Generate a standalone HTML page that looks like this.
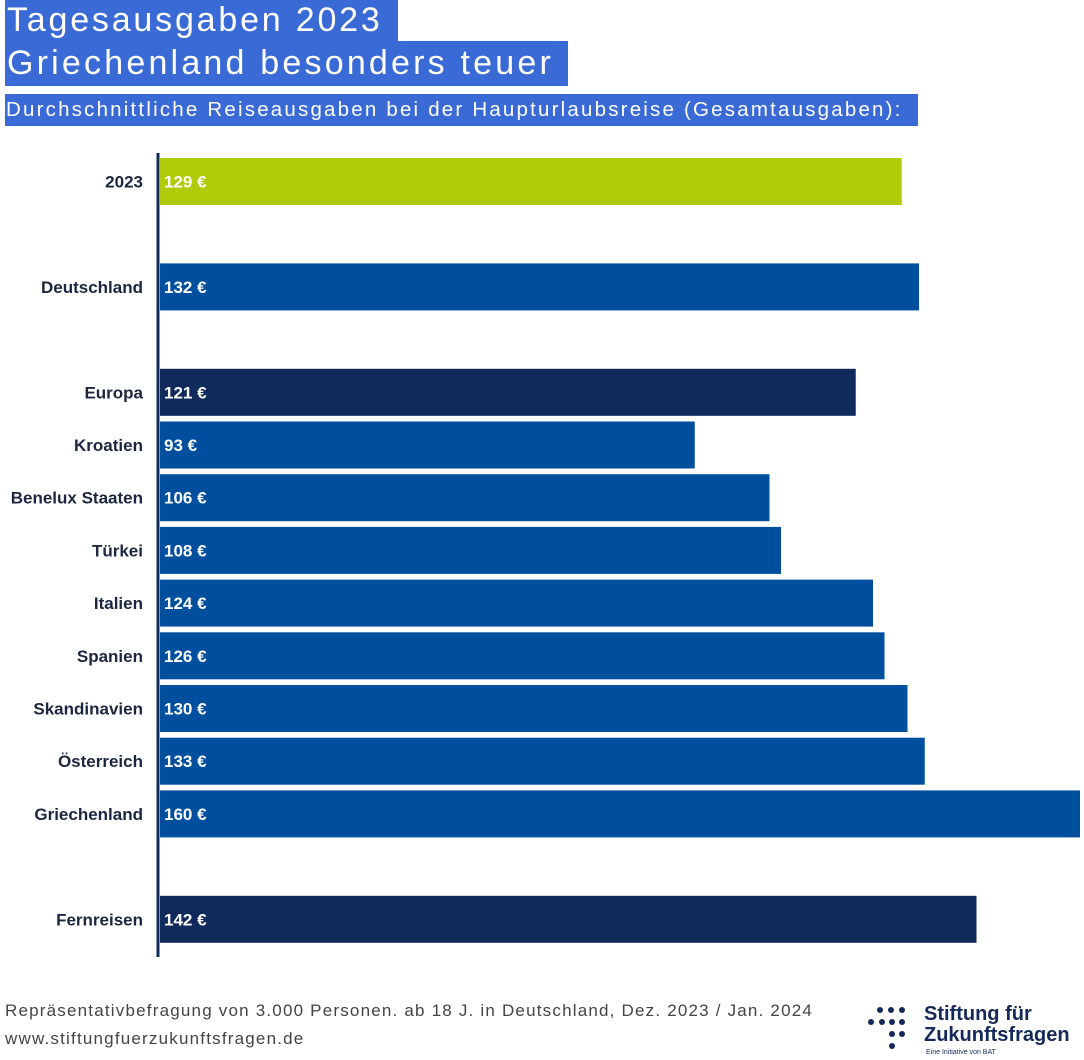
<!DOCTYPE html>
<html><head><meta charset="utf-8">
<style>
body{margin:0;background:#fff;width:1084px;height:1060px;overflow:hidden;position:relative;font-family:"Liberation Sans",sans-serif}
.t{position:absolute;background:#3a6ad6;color:#fff;white-space:nowrap}
.foot{position:absolute;left:5px;color:#444;font-size:17px;white-space:nowrap;letter-spacing:1.2px}
</style></head><body>
<div class="t" style="left:5px;top:0;width:393px;height:41px;font-size:34px;line-height:41px;padding-left:2px;box-sizing:border-box;letter-spacing:2.8px">Tagesausgaben 2023</div>
<div class="t" style="left:5px;top:41px;width:563px;height:45px;font-size:34px;line-height:45px;padding-left:2px;box-sizing:border-box;letter-spacing:3.2px">Griechenland besonders teuer</div>
<div class="t" style="left:5px;top:94px;width:913px;height:32px;font-size:20.5px;line-height:32px;padding-left:1px;box-sizing:border-box;letter-spacing:2.2px">Durchschnittliche Reiseausgaben bei der Haupturlaubsreise (Gesamtausgaben):</div>
<svg id="chart" width="1084" height="1060" style="position:absolute;left:0;top:0"></svg>
<div class="foot" style="top:1001px">Repräsentativbefragung von 3.000 Personen. ab 18 J. in Deutschland, Dez. 2023 / Jan. 2024</div>
<div class="foot" style="top:1029px">www.stiftungfuerzukunftsfragen.de</div>
<div style="position:absolute;left:866px;top:1004px;width:218px;height:56px">
<svg width="56" height="56" style="position:absolute;left:0;top:0">
<g fill="#14295a"><circle cx="14" cy="6" r="3"/><circle cx="25" cy="6" r="3"/><circle cx="36" cy="6" r="3"/>
<circle cx="5" cy="18" r="3"/><circle cx="16" cy="18" r="3"/><circle cx="26" cy="18" r="3"/><circle cx="36" cy="18" r="3"/>
<circle cx="26" cy="30" r="3"/><circle cx="36" cy="30" r="3"/><circle cx="26" cy="42" r="3"/></g></svg>
<div style="position:absolute;left:58px;top:0;color:#14295a;font-weight:bold;font-size:20px;line-height:21px">Stiftung für<br>Zukunftsfragen</div>
<div style="position:absolute;left:60px;top:45px;color:#14295a;font-size:7px">Eine Initiative von BAT</div>
</div>
<script>
const categories=["2023","Deutschland","Europa","Kroatien","Benelux Staaten","Türkei","Italien","Spanien","Skandinavien","Österreich","Griechenland","Fernreisen"];
const values=[129,132,121,93,106,108,124,126,130,133,160,142];
const slots=[0,2,4,5,6,7,8,9,10,11,12,14];
const colors=["#b1cb0b","#004f9f","#102a5c","#004f9f","#004f9f","#004f9f","#004f9f","#004f9f","#004f9f","#004f9f","#004f9f","#102a5c"];
const NS="http://www.w3.org/2000/svg";
const svg=document.getElementById('chart');
const x0=160,pxPer=5.75,y0=158,step=52.7,bh=47;
const xs=v=>v*pxPer, ys=s=>y0+s*step;
function mk(t,a){const e=document.createElementNS(NS,t);for(const k in a)e.setAttribute(k,a[k]);svg.appendChild(e);return e;}
categories.forEach((c,i)=>{
  const y=ys(slots[i]);
  const r=mk('rect',{x:x0,y:y,width:xs(values[i]),height:bh,fill:colors[i]});
  
  
  const v=mk('text',{x:x0+4,y:y+bh/2+6,fill:'#fff','font-size':17,'font-weight':'bold','font-family':'Liberation Sans, sans-serif'});
  v.textContent=values[i]+' €';
  
  
  const l=mk('text',{x:143,y:y+bh/2+6,fill:'#1b2640','font-size':17,'font-weight':'bold','text-anchor':'end','font-family':'Liberation Sans, sans-serif'});
  l.textContent=c;
  
  
});
const ax=mk('line',{x1:158,y1:153,x2:158,y2:957,stroke:'#102a5c','stroke-width':3});


</script>
</body></html>
